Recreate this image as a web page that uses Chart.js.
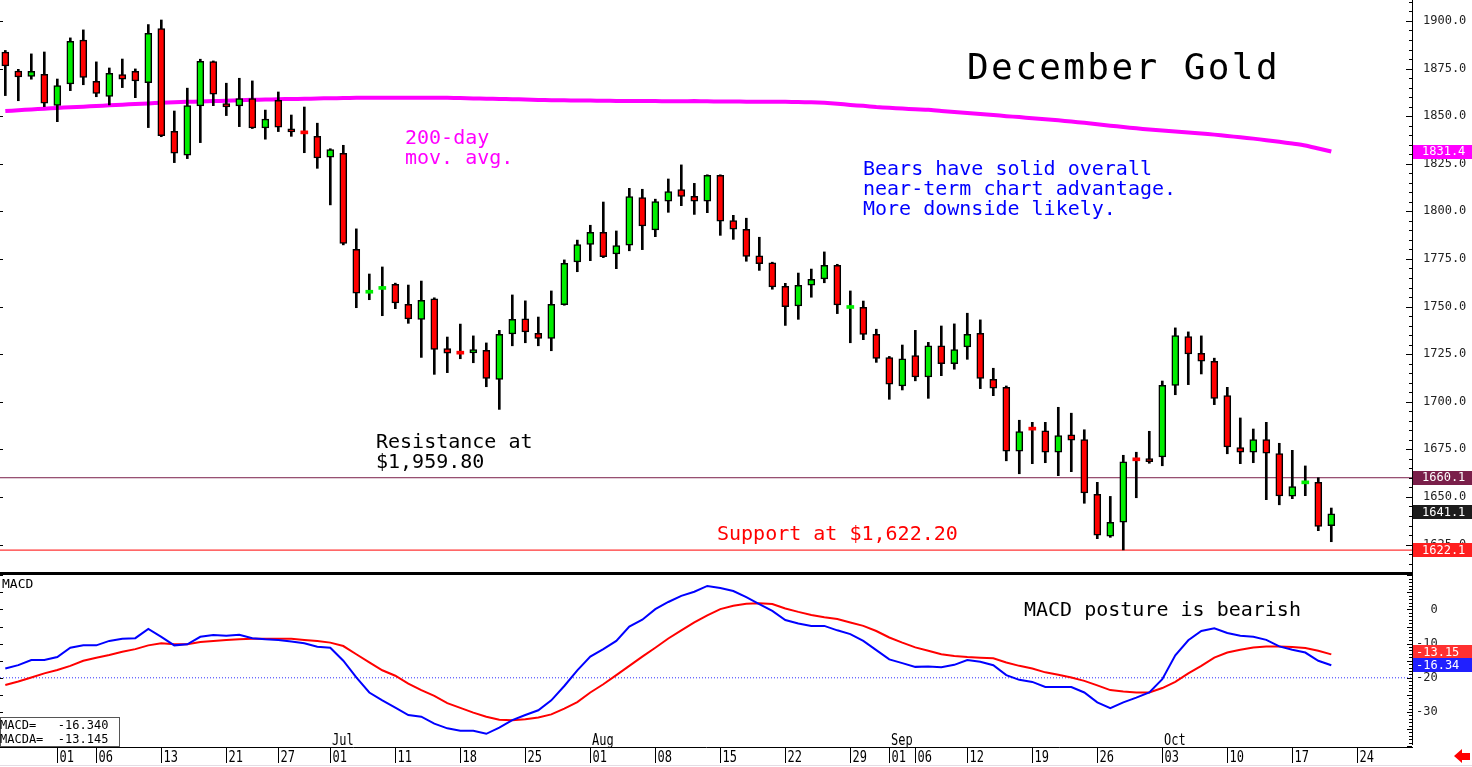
<!DOCTYPE html>
<html>
<head>
<meta charset="utf-8">
<script src="https://cdn.jsdelivr.net/npm/chart.js@4.4.0/dist/chart.umd.min.js"></script>
<style>
  html, body { margin: 0; padding: 0; background: #fff; overflow: hidden; }
  canvas { display: block; }
</style>
</head>
<body>
<canvas id="priceChart" width="1472" height="574"></canvas>
<canvas id="macdChart" width="1472" height="193"></canvas>
<script>
// December gold, daily bars 25 May - 20 Oct 2022 (one entry per trading day)
var opens = [1883.6,1873.7,1870.9,1872.0,1855.7,1866.9,1889.9,1868.3,1860.4,1871.8,
  1873.6,1867.6,1896.0,1842.0,1829.5,1855.4,1878.6,1856.6,1855.4,1859.2,
  1843.8,1858.3,1843.4,1841.0,1839.4,1828.5,1830.5,1780.1,1757.0,1759.0,
  1761.7,1751.2,1743.3,1754.1,1727.9,1725.3,1725.6,1727.0,1711.8,1735.6,
  1743.6,1736.0,1733.3,1751.0,1773.4,1782.7,1789.0,1777.6,1782.3,1807.2,
  1790.2,1805.3,1811.4,1807.9,1805.3,1818.9,1795.1,1790.6,1776.7,1773.0,
  1760.6,1750.3,1761.3,1764.5,1771.7,1749.0,1749.6,1735.4,1723.2,1708.3,
  1724.2,1713.0,1729.4,1720.0,1728.8,1736.0,1711.8,1707.6,1674.0,1685.4,
  1684.8,1673.5,1682.7,1680.1,1651.4,1629.4,1636.8,1669.3,1669.8,1671.0,
  1708.6,1734.2,1725.5,1721.3,1703.2,1675.9,1673.5,1680.1,1672.8,1650.4,
  1656.9,1657.7,1634.9];
var highs = [1884.5,1874.6,1882.7,1883.7,1869.5,1891.1,1895.3,1878.5,1875.3,1880.0,
  1874.8,1898.1,1900.5,1852.7,1864.7,1879.9,1879.0,1867.3,1869.9,1868.5,
  1853.2,1862.7,1850.6,1854.8,1846.3,1832.9,1834.7,1790.8,1767.1,1770.8,
  1762.3,1761.3,1763.4,1754.6,1734.0,1740.8,1734.6,1730.9,1737.5,1756.1,
  1753.0,1744.5,1758.2,1774.5,1784.9,1792.7,1804.9,1789.7,1812.1,1811.6,
  1806.4,1817.0,1824.4,1814.7,1819.2,1819.2,1797.9,1796.4,1786.4,1773.3,
  1762.2,1767.6,1769.7,1778.7,1772.2,1758.2,1752.9,1738.1,1723.8,1729.8,
  1737.5,1731.2,1739.8,1740.9,1746.5,1743.0,1717.6,1708.3,1690.3,1689.2,
  1689.2,1697.1,1694.0,1685.3,1657.7,1650.3,1671.9,1673.5,1684.5,1710.9,
  1738.8,1736.7,1734.6,1722.9,1707.6,1691.5,1685.7,1689.2,1678.2,1674.5,
  1666.3,1660.1,1644.2];
var lows = [1860.8,1858.1,1869.4,1855.0,1847.1,1863.4,1866.5,1860.2,1855.9,1865.0,
  1859.7,1844.0,1839.2,1825.6,1827.7,1836.1,1855.5,1850.3,1844.5,1843.5,
  1837.9,1841.9,1839.4,1830.8,1822.6,1803.4,1782.4,1749.4,1753.6,1745.2,
  1748.9,1741.2,1723.3,1714.4,1715.3,1722.6,1720.5,1707.9,1696.0,1729.4,
  1731.0,1729.4,1726.8,1750.7,1768.3,1774.1,1775.7,1769.9,1779.3,1779.9,
  1786.7,1799.5,1803.0,1798.4,1799.3,1787.4,1785.3,1773.8,1769.0,1759.1,
  1740.1,1743.3,1754.9,1762.5,1746.3,1731.0,1732.6,1720.7,1701.3,1706.2,
  1711.0,1701.8,1713.7,1717.1,1722.3,1706.9,1703.2,1669.0,1662.2,1667.5,
  1668.0,1661.2,1663.3,1646.7,1628.1,1628.8,1622.2,1649.6,1667.7,1666.4,
  1703.7,1709.0,1714.6,1698.5,1672.7,1667.5,1668.0,1648.6,1645.9,1649.1,
  1650.7,1632.3,1626.5];
var closes = [1876.4,1870.6,1873.6,1856.8,1866.0,1889.3,1870.4,1862.0,1872.5,1869.4,
  1868.5,1893.5,1839.8,1830.5,1855.5,1878.8,1861.5,1854.8,1859.2,1843.8,
  1848.4,1844.2,1841.7,1840.7,1828.0,1832.4,1783.2,1757.0,1757.5,1760.0,
  1751.9,1743.5,1753.3,1727.5,1725.5,1725.0,1727.4,1712.3,1735.4,1743.3,
  1736.7,1733.3,1751.2,1772.7,1782.5,1789.0,1776.2,1782.0,1807.7,1792.3,
  1805.1,1810.4,1807.9,1805.4,1818.9,1794.9,1790.7,1776.4,1772.5,1760.3,
  1749.9,1761.2,1764.3,1771.7,1750.8,1749.3,1735.4,1722.8,1709.3,1722.6,
  1713.0,1729.4,1720.0,1727.4,1735.4,1712.3,1707.1,1674.0,1684.3,1685.1,
  1673.5,1682.2,1679.8,1652.1,1629.9,1636.7,1668.5,1669.0,1668.6,1708.6,
  1734.7,1725.1,1721.3,1701.8,1676.3,1673.5,1680.1,1673.0,1650.5,1655.4,
  1657.7,1634.6,1641.1];
// 200-day moving average
var ma200 = [1852.7,1853.1,1853.5,1853.9,1854.3,1854.7,1855.0,1855.3,1855.7,1856.0,
  1856.4,1856.7,1857.0,1857.3,1857.5,1857.7,1857.9,1858.1,1858.4,1858.6,
  1858.7,1858.9,1859.0,1859.1,1859.3,1859.4,1859.5,1859.6,1859.6,1859.6,
  1859.6,1859.6,1859.6,1859.6,1859.6,1859.5,1859.3,1859.2,1859.0,1858.9,
  1858.8,1858.5,1858.4,1858.3,1858.2,1858.2,1858.1,1858.0,1858.0,1857.9,
  1857.9,1857.8,1857.8,1857.9,1857.8,1857.7,1857.7,1857.6,1857.6,1857.5,
  1857.5,1857.4,1857.3,1857.0,1856.5,1855.9,1855.4,1854.8,1854.4,1854.0,
  1853.6,1853.3,1852.7,1852.2,1851.7,1851.1,1850.6,1850.0,1849.5,1848.9,
  1848.4,1847.8,1847.2,1846.5,1845.8,1845.0,1844.3,1843.6,1843.0,1842.5,
  1842.0,1841.4,1840.9,1840.3,1839.6,1838.9,1838.2,1837.4,1836.5,1835.6,
  1834.6,1833.0,1831.4];
// MACD (blue) and its signal line MACDA (red)
var macdLine = [-17.3,-16.3,-14.8,-14.8,-13.9,-11.2,-10.5,-10.5,-9.2,-8.6,
  -8.4,-5.7,-8.0,-10.5,-10.2,-8.0,-7.5,-7.7,-7.4,-8.4,
  -8.7,-8.9,-9.4,-9.9,-10.9,-11.2,-15.0,-19.9,-24.3,-26.6,
  -28.7,-30.9,-31.4,-33.4,-34.8,-35.5,-35.5,-36.4,-34.6,-32.4,
  -30.9,-29.5,-26.6,-22.4,-17.8,-13.8,-11.6,-9.2,-5.0,-3.0,
  0.1,2.2,4.0,5.2,6.9,6.3,5.4,3.6,1.6,-0.4,
  -3.1,-4.1,-4.8,-4.8,-6.1,-7.2,-9.2,-11.9,-14.6,-15.7,
  -16.8,-16.7,-16.9,-16.2,-14.8,-15.3,-16.3,-19.2,-20.6,-21.2,
  -22.7,-22.7,-22.7,-24.3,-27.2,-28.9,-27.2,-25.8,-24.3,-20.4,
  -13.4,-9.0,-6.3,-5.5,-6.9,-7.7,-8.0,-8.9,-10.8,-11.8,
  -12.6,-15.0,-16.34];
var signalLine = [-22.1,-21.1,-19.9,-18.7,-17.7,-16.5,-15.0,-14.1,-13.3,-12.4,
  -11.6,-10.5,-9.9,-10.2,-10.2,-9.5,-9.2,-8.9,-8.7,-8.6,
  -8.6,-8.6,-8.6,-8.9,-9.2,-9.7,-10.7,-13.1,-15.5,-17.8,
  -19.4,-21.7,-23.6,-25.3,-27.4,-28.8,-30.2,-31.4,-32.3,-32.4,
  -32.1,-31.6,-30.7,-29.0,-27.1,-24.3,-21.9,-19.2,-16.5,-13.8,
  -11.2,-8.5,-6.1,-3.8,-1.7,0.1,1.1,1.7,1.8,1.6,
  0.3,-0.7,-1.6,-2.3,-2.8,-3.8,-4.8,-6.3,-8.2,-9.7,
  -11.1,-12.1,-13.1,-13.6,-13.9,-14.1,-14.3,-15.5,-16.5,-17.3,
  -18.4,-19.1,-19.9,-20.9,-22.2,-23.6,-24.0,-24.3,-24.3,-23.0,
  -21.2,-18.7,-16.5,-14.1,-12.6,-11.8,-11.1,-10.8,-10.8,-11.0,
  -11.3,-12.1,-13.145];

var priceTicks = [1625, 1650, 1675, 1700, 1725, 1750, 1775, 1800, 1825, 1850, 1875, 1900];
var macdTicks = [0, -10, -20, -30];
// date axis: trading-day index of each labelled day
var dayTickIdx = [4, 7, 12, 17, 21, 25, 30, 35, 40, 45, 50, 55, 60, 65, 68, 70, 74, 79, 84, 89, 94, 99, 104];
var dayTickLabels = ['01','06','13','21','27','01','11','18','25','01','08','15','22','29','01','06','12','19','26','03','10','17','24'];
var monthIdx = [25, 45, 68, 89];
var monthLabels = ['Jul', 'Aug', 'Sep', 'Oct'];

var resistanceLevel = 1660.1;
var supportLevel = 1622.1;
var macdSignalRef = -20;

// both panels share the same day axis
var xMin = -0.408, xMax = 108.208;
var MONO = '"DejaVu Sans Mono", "Liberation Mono", monospace';
var upColor = '#00ee00', downColor = '#ff0000';

function pts(arr) {
    return arr.map(function (v, i) { return { x: i, y: v }; });
}
function isDoji(i) {
    return Math.abs(closes[i] - opens[i]) <= 1.0;
}
function fmt(v, d) {
    var p = Math.pow(10, d);
    var r = Math.round(Math.abs(v) * p + 1e-6) / p;
    return (v < 0 ? '-' : '') + r.toFixed(d);
}
function text(ctx, str, x, y, size, color, spacing) {
    ctx.font = size + 'px ' + MONO;
    ctx.fillStyle = color;
    ctx.letterSpacing = (spacing || 0) + 'px';
    ctx.textAlign = 'left';
    ctx.textBaseline = 'alphabetic';
    ctx.fillText(str, x, y);
    ctx.letterSpacing = '0px';
}
function badge(ctx, x, yc, str, bg, tx) {
    ctx.fillStyle = bg;
    ctx.fillRect(x, Math.round(yc - 7), 1472 - x, 14);
    ctx.fillStyle = '#fff';
    ctx.font = '12px ' + MONO;
    ctx.textAlign = 'left';
    ctx.textBaseline = 'middle';
    ctx.fillText(str, tx, yc + 0.5);
}
// fixed axis width, and no extra room kept for the end labels
function fixWidth(scale) {
    scale.width = 60;
    scale.paddingTop = 0;
    scale.paddingBottom = 0;
}

// price panel decorations: axis, tick marks, notes and value flags
var priceDecor = {
    id: 'priceDecor',
    afterDraw: function (chart) {
        var ctx = chart.ctx, ys = chart.scales.y, area = chart.chartArea;
        ctx.save();
        ctx.strokeStyle = '#000';
        ctx.lineWidth = 1;
        ctx.beginPath();
        ctx.moveTo(area.right + 0.5, 0);
        ctx.lineTo(area.right + 0.5, chart.height);
        ctx.stroke();
        for (var v = Math.ceil(ys.min / 5) * 5; v <= ys.max; v += 5) {
            var py = Math.round(ys.getPixelForValue(v)) + 0.5;
            var len = v % 25 === 0 ? 6 : 3;
            ctx.beginPath();
            ctx.moveTo(area.right - len, py);
            ctx.lineTo(area.right, py);
            if (v % 25 === 0) { ctx.moveTo(0, py); ctx.lineTo(3, py); }
            ctx.stroke();
        }
        ctx.fillStyle = '#000';
        ctx.fillRect(0, area.bottom, area.right + 1, chart.height - area.bottom);

        text(ctx, 'December Gold', 967, 79, 36, '#000', 2.4);
        text(ctx, '200-day', 405, 144, 20, '#ff00ff');
        text(ctx, 'mov. avg.', 405, 164, 20, '#ff00ff');
        text(ctx, 'Bears have solid overall', 863, 175, 20, '#0000ff');
        text(ctx, 'near-term chart advantage.', 863, 195, 20, '#0000ff');
        text(ctx, 'More downside likely.', 863, 215, 20, '#0000ff');
        text(ctx, 'Resistance at', 376, 448, 20, '#000');
        text(ctx, '$1,959.80', 376, 468, 20, '#000');
        text(ctx, 'Support at $1,622.20', 717, 540, 20, '#ff0000');

        var last = closes.length - 1;
        badge(ctx, 1413, ys.getPixelForValue(ma200[last]), fmt(ma200[last], 1), '#ff00ff', 1422);
        badge(ctx, 1413, ys.getPixelForValue(resistanceLevel), fmt(resistanceLevel, 1), '#7a1f4a', 1422);
        badge(ctx, 1413, ys.getPixelForValue(closes[last]) - 2, fmt(closes[last], 1), '#1c1c1c', 1422);
        badge(ctx, 1413, ys.getPixelForValue(supportLevel), fmt(supportLevel, 1), '#ff2020', 1422);
        ctx.restore();
    }
};

new Chart(document.getElementById('priceChart'), {
    type: 'bar',
    data: {
        datasets: [{
            label: 'body',
            data: opens.map(function (o, i) { return { x: i, y: [o, closes[i]] }; }),
            order: 0,
            grouped: false,
            barThickness: 7,
            minBarLength: 3,
            backgroundColor: function (c) { return closes[c.dataIndex] >= opens[c.dataIndex] ? upColor : downColor; },
            borderColor: '#000',
            borderWidth: function (c) { return isDoji(c.dataIndex) ? 0 : 1.5; },
            borderSkipped: false
        }, {
            label: 'wick',
            data: lows.map(function (l, i) { return { x: i, y: [l, highs[i]] }; }),
            order: 1,
            grouped: false,
            barThickness: 2,
            backgroundColor: '#000'
        }, {
            type: 'line',
            label: '200-day mov. avg.',
            data: pts(ma200),
            order: 2,
            borderColor: '#ff00ff',
            borderWidth: 4,
            pointRadius: 0,
            tension: 0.2
        }, {
            type: 'line',
            label: 'resistance',
            data: [{ x: xMin, y: resistanceLevel }, { x: xMax, y: resistanceLevel }],
            order: 3,
            borderColor: '#7a1f4a',
            borderWidth: 1,
            pointRadius: 0
        }, {
            type: 'line',
            label: 'support',
            data: [{ x: xMin, y: supportLevel }, { x: xMax, y: supportLevel }],
            order: 3,
            borderColor: '#ff0000',
            borderWidth: 1,
            pointRadius: 0
        }]
    },
    options: {
        responsive: false,
        animation: false,
        devicePixelRatio: 1,
        events: [],
        layout: { padding: { left: 0, right: 0, top: 0, bottom: 2 } },
        plugins: { legend: { display: false }, tooltip: { enabled: false } },
        scales: {
            x: { type: 'linear', min: xMin, max: xMax, offset: false, display: false },
            y: {
                position: 'right',
                min: 1610.6,
                max: 1911.0,
                afterFit: fixWidth,
                afterBuildTicks: function (s) { s.ticks = priceTicks.map(function (v) { return { value: v }; }); },
                grid: { display: false, drawTicks: false },
                border: { display: false },
                ticks: {
                    padding: 11,
                    crossAlign: 'near',
                    color: '#222',
                    font: { family: MONO, size: 12 },
                    callback: function (v) { return Number(v).toFixed(1); }
                }
            }
        }
    },
    plugins: [priceDecor]
});

// MACD panel decorations: date axis, legend box, note and flags
var macdDecor = {
    id: 'macdDecor',
    afterDraw: function (chart) {
        var ctx = chart.ctx, xs = chart.scales.x, ys = chart.scales.y, area = chart.chartArea;
        ctx.save();
        ctx.fillStyle = '#000';
        ctx.fillRect(0, 0, area.right + 1, 1);
        ctx.strokeStyle = '#000';
        ctx.lineWidth = 1;
        ctx.beginPath();
        ctx.moveTo(area.right + 0.5, 0);
        ctx.lineTo(area.right + 0.5, area.bottom - 2);
        ctx.moveTo(0, area.bottom + 0.5);
        ctx.lineTo(area.right + 1, area.bottom + 0.5);
        ctx.stroke();
        for (var v = Math.ceil(ys.min); v <= ys.max; v++) {
            var py = Math.round(ys.getPixelForValue(v)) + 0.5;
            ctx.beginPath();
            ctx.moveTo(area.right - (v % 5 === 0 ? 5 : 3), py);
            ctx.lineTo(area.right, py);
            if (v % 5 === 0) { ctx.moveTo(0, py); ctx.lineTo(3, py); }
            ctx.stroke();
        }

        // day ticks below the panel
        ctx.font = '12px ' + MONO;
        ctx.textAlign = 'left';
        ctx.textBaseline = 'alphabetic';
        dayTickIdx.forEach(function (d, k) {
            var px = Math.round(xs.getPixelForValue(d)) + 0.5;
            ctx.beginPath();
            ctx.moveTo(px, area.bottom);
            ctx.lineTo(px, area.bottom + 16);
            ctx.stroke();
            ctx.save();
            ctx.translate(px + 2, 188);
            ctx.scale(1, 1.3);
            ctx.fillStyle = '#000';
            ctx.fillText(dayTickLabels[k], 0, 0);
            ctx.restore();
        });
        monthIdx.forEach(function (d, k) {
            var px = Math.round(xs.getPixelForValue(d));
            ctx.save();
            ctx.translate(px + 2, 171);
            ctx.scale(1, 1.3);
            ctx.fillStyle = '#000';
            ctx.fillText(monthLabels[k], 0, 0);
            ctx.restore();
        });

        text(ctx, 'MACD', 2, 14, 13, '#000');
        text(ctx, 'MACD posture is bearish', 1024, 42, 20, '#000');

        // value box, bottom left
        var last = closes.length - 1;
        ctx.fillStyle = '#fff';
        ctx.fillRect(0, 144, 119, 29);
        ctx.strokeStyle = '#555';
        ctx.strokeRect(0.5, 143.5, 119, 29);
        ctx.fillStyle = '#000';
        ctx.font = '12px ' + MONO;
        ctx.textBaseline = 'middle';
        ctx.fillText('MACD=   ' + fmt(macdLine[last], 3), 0, 151.5);
        ctx.fillText('MACDA=  ' + fmt(signalLine[last], 3), 0, 165.5);

        var yRed = ys.getPixelForValue(signalLine[last]) - 2;
        var yBlue = ys.getPixelForValue(macdLine[last]);
        if (yBlue - yRed < 13) { yRed = yBlue - 13; }
        badge(ctx, 1413, yRed, fmt(signalLine[last], 2), '#ff3030', 1416);
        badge(ctx, 1413, yBlue, fmt(macdLine[last], 2), '#2020ff', 1416);

        // little red arrow, bottom right
        ctx.fillStyle = '#ff0000';
        ctx.beginPath();
        ctx.moveTo(1454, 182);
        ctx.lineTo(1462, 175);
        ctx.lineTo(1462, 179);
        ctx.lineTo(1470, 179);
        ctx.lineTo(1470, 186);
        ctx.lineTo(1462, 186);
        ctx.lineTo(1462, 189);
        ctx.closePath();
        ctx.fill();

        ctx.fillStyle = '#e4dce4';
        ctx.fillRect(0, 191, chart.width, 1);
        ctx.restore();
    }
};

new Chart(document.getElementById('macdChart'), {
    type: 'line',
    data: {
        datasets: [{
            label: 'MACD',
            data: pts(macdLine),
            order: 0,
            borderColor: '#0000ff',
            borderWidth: 2,
            pointRadius: 0
        }, {
            label: 'MACDA',
            data: pts(signalLine),
            order: 1,
            borderColor: '#ff0000',
            borderWidth: 2,
            pointRadius: 0
        }, {
            label: 'ref',
            data: [{ x: xMin, y: macdSignalRef }, { x: xMax, y: macdSignalRef }],
            order: 2,
            borderColor: '#3030ff',
            borderWidth: 1,
            borderDash: [1, 2],
            pointRadius: 0
        }]
    },
    options: {
        responsive: false,
        animation: false,
        devicePixelRatio: 1,
        events: [],
        layout: { padding: { left: 0, right: 0, top: 1, bottom: 20 } },
        plugins: { legend: { display: false }, tooltip: { enabled: false } },
        scales: {
            x: { type: 'linear', min: xMin, max: xMax, offset: false, display: false },
            y: {
                position: 'right',
                min: -40.26,
                max: 10.1,
                afterFit: fixWidth,
                afterBuildTicks: function (s) { s.ticks = macdTicks.map(function (v) { return { value: v }; }); },
                grid: { display: false, drawTicks: false },
                border: { display: false },
                ticks: {
                    padding: 4,
                    crossAlign: 'near',
                    color: '#222',
                    font: { family: MONO, size: 12 },
                    callback: function (v) { return ('   ' + v).slice(-3); }
                }
            }
        }
    },
    plugins: [macdDecor]
});
</script>
</body>
</html>
